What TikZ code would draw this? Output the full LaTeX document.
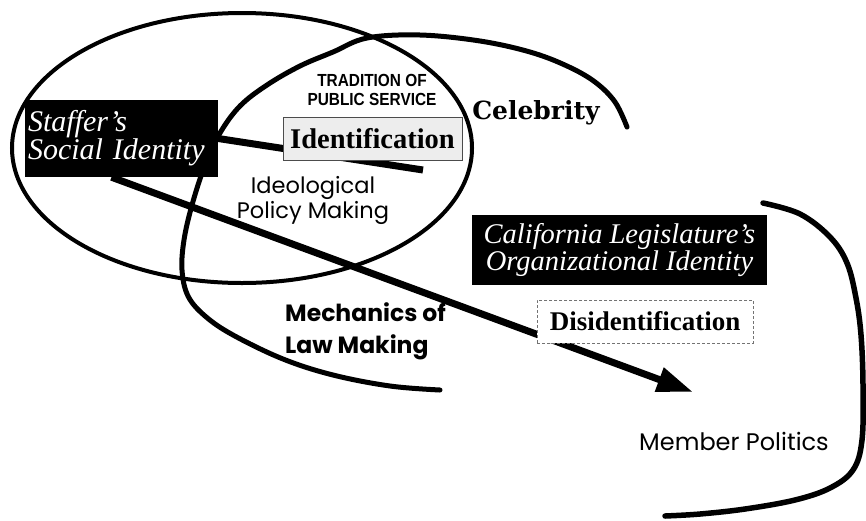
\documentclass[tikz,border=0pt]{standalone}
\usepackage{fontspec}
\setmainfont{Liberation Serif}
\newfontfamily\popfont{Poppins}
\newfontfamily\slabfont{DejaVu Serif}
\newfontfamily\impfont{Liberation Sans}
\usetikzlibrary{arrows.meta}
\pgfdeclarelayer{bg}
\pgfsetlayers{bg,main}
\begin{document}
\begin{tikzpicture}[x=1pt,y=-1pt,
  curve/.style={line width=5pt, line cap=round},
  heavyline/.style={line width=7pt},
  darkbox/.style={fill=black, text=white, inner sep=3pt, font=\itshape},
  labelbox/.style={fill=white, draw=black!70, line width=0.6pt, inner sep=0pt, font=\bfseries}
]
\useasboundingbox (0,0) rectangle (866,520);

% boxes
\node[darkbox, minimum width=193pt, minimum height=77pt, text width=187pt, align=left,
      font=\itshape\fontsize{30}{27}\selectfont] (staffer) at (121.5,138.5)
      {Staffer's\\Social Identity};
\node[darkbox, minimum width=295pt, minimum height=70pt, align=center,
      font=\itshape\fontsize{28.5}{25}\selectfont] (calif) at (619.5,250)
      {California Legislature's\\Organizational Identity};
\node[labelbox, fill=black!7, minimum width=179pt, minimum height=43pt,
      font=\bfseries\fontsize{28.5}{30}\selectfont] (ident) at (372.5,138.5) {Identification};
\node[labelbox, draw=black!55, densely dashed, minimum width=216pt, minimum height=43pt,
      font=\bfseries\fontsize{27}{30}\selectfont] (disid) at (645,321.5) {Disidentification};

% labels
\node[font=\impfont\bfseries\fontsize{17.5}{19}\selectfont, align=center, inner sep=0pt] (trad) at (372,90)
      {\scalebox{0.88}[1]{TRADITION OF}\\\scalebox{0.88}[1]{PUBLIC SERVICE}};
\node[font=\slabfont\bfseries\fontsize{25}{28}\selectfont, inner sep=0pt] (celeb) at (536,113) {Celebrity};
\node[font=\popfont\fontsize{22.5}{25}\selectfont, align=center, inner sep=0pt] (ideo) at (313,200)
      {Ideological\\Policy Making};
\node[font=\popfont\bfseries\fontsize{23.5}{32}\selectfont, align=left, inner sep=0pt, anchor=west] (mech) at (285,331)
      {Mechanics of\\Law Making};
\node[font=\popfont\fontsize{24}{26}\selectfont, inner sep=0pt] (member) at (734,441) {Member Politics};

\coordinate (idend) at (423,170);
\coordinate (tip) at (693,392);

\begin{pgfonlayer}{bg}
  % large ellipse
  \draw[line width=4pt] (242,148) ellipse [x radius=230, y radius=135];
  % open arc: Celebrity / Mechanics
  \draw[curve] plot[smooth, tension=0.6] coordinates {
    (627,127) (615,102) (595,82) (567,66) (530,52) (480,41) (420,35) (367,38)
    (333,52) (300,66) (267,85) (240,106) (220,133) (205,165) (192,205)
    (184,240) (182,270) (188,296) (205,316) (233,335) (283,359) (333,375)
    (390,386) (440,390)};
  % open arc: Member Politics
  \draw[line width=5.5pt, line cap=round] plot[smooth, tension=0.6] coordinates {
    (763,203) (800,214) (830,237) (847,263) (856,298) (861,335) (863,385)
    (862,440) (853,470) (830,488) (795,500) (745,509) (700,514) (665,516)};
  % connectors
  \draw[heavyline] (staffer.east) -- (idend);
  \draw[heavyline, -{Triangle[length=36pt,width=24pt]}] ([xshift=-10pt]staffer.south) -- (tip);
\end{pgfonlayer}
\end{tikzpicture}
\end{document}
